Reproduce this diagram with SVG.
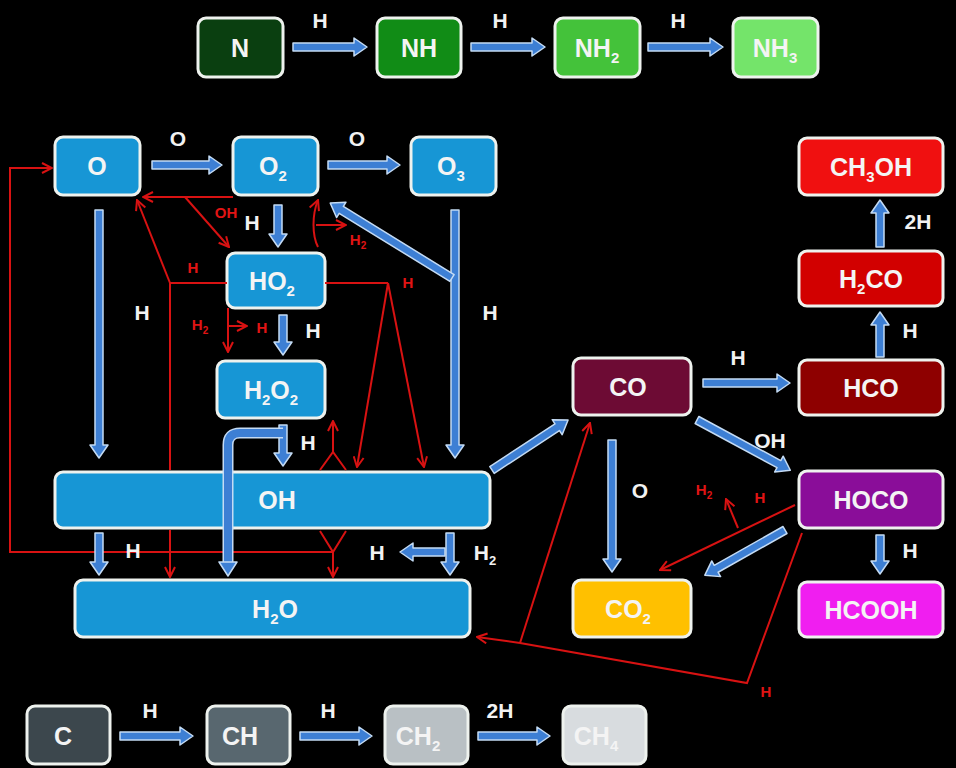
<svg xmlns="http://www.w3.org/2000/svg" width="956" height="768" viewBox="0 0 956 768">
  <defs>
    <style>
      .box { stroke: #eef2ee; stroke-width: 3; }
      .lbl { font-family: "Liberation Sans", Arial, sans-serif; font-weight: bold; font-size: 25px; text-anchor: middle; fill: #f4f4f4; }
      .sub { font-size: 15px; }
      .wt { font-family: "Liberation Sans", Arial, sans-serif; font-weight: bold; font-size: 21px; text-anchor: middle; fill: #f2f2f2; }
      .rt { font-family: "Liberation Sans", Arial, sans-serif; font-weight: bold; font-size: 15px; text-anchor: middle; fill: #e01414; }
      .blk { fill: #3d7fd4; stroke: #c4dbf4; stroke-width: 1.5; stroke-linejoin: round; }
      .red { fill: none; stroke: #d81212; stroke-width: 2; }
      .ra { fill: none; stroke: #d81212; stroke-width: 2; marker-end: url(#vhead); }
    </style>
    <marker id="vhead" viewBox="0 0 12 12" refX="11" refY="6" markerWidth="12" markerHeight="12" markerUnits="userSpaceOnUse" orient="auto">
      <path d="M1,1 L11,6 L1,11" fill="none" stroke="#d81212" stroke-width="2"/>
    </marker>
  </defs>

  <rect width="956" height="768" fill="#000"/>

  <!-- nitrogen chain -->
  <g id="n-N"><rect class="box" x="198" y="18" width="85" height="59" rx="8" fill="#0a3f10"/><text class="lbl" x="240" y="57">N</text></g>
  <g id="n-NH"><rect class="box" x="377" y="18" width="84" height="59" rx="8" fill="#118c16"/><text class="lbl" x="419" y="57">NH</text></g>
  <g id="n-NH2"><rect class="box" x="555" y="18" width="85" height="59" rx="8" fill="#44c23a"/><text class="lbl" x="597" y="57">NH<tspan class="sub" dy="6">2</tspan></text></g>
  <g id="n-NH3"><rect class="box" x="733" y="18" width="85" height="59" rx="8" fill="#74e46a"/><text class="lbl" x="775" y="57" fill="#e4fbe0">NH<tspan class="sub" dy="6">3</tspan></text></g>

  <!-- oxygen / water network -->
  <g id="n-O"><rect class="box" x="55" y="137" width="85" height="58" rx="8" fill="#1796d5"/><text class="lbl" x="97" y="175">O</text></g>
  <g id="n-O2"><rect class="box" x="233" y="137" width="85" height="58" rx="8" fill="#1796d5"/><text class="lbl" x="273" y="175">O<tspan class="sub" dy="6">2</tspan></text></g>
  <g id="n-O3"><rect class="box" x="411" y="137" width="85" height="58" rx="8" fill="#1796d5"/><text class="lbl" x="451" y="175">O<tspan class="sub" dy="6">3</tspan></text></g>
  <g id="n-HO2"><rect class="box" x="227" y="253" width="98" height="55" rx="8" fill="#1796d5"/><text class="lbl" x="272" y="290">HO<tspan class="sub" dy="6">2</tspan></text></g>
  <g id="n-H2O2"><rect class="box" x="217" y="361" width="108" height="57" rx="8" fill="#1796d5"/><text class="lbl" x="271" y="399">H<tspan class="sub" dy="6">2</tspan><tspan dy="-6">O</tspan><tspan class="sub" dy="6">2</tspan></text></g>
  <g id="n-OH"><rect class="box" x="55" y="472" width="435" height="56" rx="8" fill="#1796d5"/><text class="lbl" x="277" y="509">OH</text></g>
  <g id="n-H2O"><rect class="box" x="75" y="580" width="395" height="57" rx="8" fill="#1796d5"/><text class="lbl" x="275" y="618">H<tspan class="sub" dy="6">2</tspan><tspan dy="-6">O</tspan></text></g>

  <!-- carbon oxide network -->
  <g id="n-CO"><rect class="box" x="573" y="358" width="118" height="57" rx="8" fill="#6d0b34"/><text class="lbl" x="628" y="396">CO</text></g>
  <g id="n-CO2"><rect class="box" x="573" y="580" width="118" height="57" rx="8" fill="#ffc000"/><text class="lbl" x="628" y="618" fill="#fff3c8">CO<tspan class="sub" dy="6">2</tspan></text></g>
  <g id="n-HCO"><rect class="box" x="799" y="360" width="144" height="55" rx="8" fill="#8e0000"/><text class="lbl" x="871" y="397">HCO</text></g>
  <g id="n-H2CO"><rect class="box" x="799" y="251" width="144" height="55" rx="8" fill="#d20000"/><text class="lbl" x="871" y="288">H<tspan class="sub" dy="6">2</tspan><tspan dy="-6">CO</tspan></text></g>
  <g id="n-CH3OH"><rect class="box" x="799" y="138" width="144" height="57" rx="8" fill="#f01010"/><text class="lbl" x="871" y="176">CH<tspan class="sub" dy="6">3</tspan><tspan dy="-6">OH</tspan></text></g>
  <g id="n-HOCO"><rect class="box" x="799" y="471" width="144" height="57" rx="8" fill="#8a0d99"/><text class="lbl" x="871" y="509">HOCO</text></g>
  <g id="n-HCOOH"><rect class="box" x="799" y="582" width="144" height="55" rx="8" fill="#f01ef0"/><text class="lbl" x="871" y="619">HCOOH</text></g>

  <!-- hydrocarbon chain -->
  <g id="n-C"><rect class="box" x="27" y="706" width="83" height="58" rx="8" fill="#3c474d"/><text class="lbl" x="63" y="745">C</text></g>
  <g id="n-CH"><rect class="box" x="207" y="706" width="83" height="58" rx="8" fill="#58676f"/><text class="lbl" x="240" y="745">CH</text></g>
  <g id="n-CH2"><rect class="box" x="385" y="706" width="83" height="58" rx="8" fill="#b9c0c4"/><text class="lbl" x="418" y="745" fill="#eef0f2">CH<tspan class="sub" dy="6">2</tspan></text></g>
  <g id="n-CH4"><rect class="box" x="563" y="706" width="83" height="58" rx="8" fill="#d8dcdf"/><text class="lbl" x="596" y="745" fill="#f4f6f7">CH<tspan class="sub" dy="6">4</tspan></text></g>

  <g id="connectors">
    <!-- red reaction lines -->
    <g id="red-lines">
      <polyline class="ra" points="333,552 10,552 10,168 52,168"/>
      <path class="red" d="M320,531 L333,552 L346,531"/>
      <line class="ra" x1="333" y1="552" x2="333" y2="577"/>
      <line class="red" x1="170" y1="283" x2="170" y2="470"/>
      <line class="ra" x1="170" y1="530" x2="170" y2="577"/>
      <line class="red" x1="227" y1="283" x2="170" y2="283"/>
      <line class="ra" x1="170" y1="283" x2="137" y2="200"/>
      <line class="ra" x1="233" y1="197" x2="143" y2="197"/>
      <line class="ra" x1="185" y1="197" x2="229" y2="247"/>
      <line class="ra" x1="228" y1="308" x2="228" y2="352"/>
      <line class="ra" x1="228" y1="326" x2="247" y2="326"/>
      <path class="ra" d="M318,247 C312,235 312,215 318,200"/>
      <line class="ra" x1="316" y1="225" x2="346" y2="225"/>
      <line class="red" x1="325" y1="283" x2="388" y2="283"/>
      <line class="ra" x1="388" y1="283" x2="357" y2="467"/>
      <line class="ra" x1="388" y1="283" x2="424" y2="467"/>
      <path class="red" d="M320,470 L333,452 L346,470"/>
      <line class="ra" x1="333" y1="452" x2="333" y2="421"/>
      <polyline class="red" points="802,533 747,683 520,643"/>
      <line class="ra" x1="520" y1="643" x2="477" y2="637"/>
      <line class="ra" x1="520" y1="643" x2="590" y2="423"/>
      <line class="ra" x1="795" y1="505" x2="660" y2="570"/>
      <line class="ra" x1="738" y1="528" x2="726" y2="499"/>
    </g>

    <!-- blue block arrows: drawn along +x, then placed -->
    <g id="blue-arrows">
      <polygon class="blk" transform="translate(293,47)" points="0,-4 61,-4 61,-9 74,0 61,9 61,4 0,4"/>
      <polygon class="blk" transform="translate(471,47)" points="0,-4 61,-4 61,-9 74,0 61,9 61,4 0,4"/>
      <polygon class="blk" transform="translate(648,47)" points="0,-4 62,-4 62,-9 75,0 62,9 62,4 0,4"/>
      <polygon class="blk" transform="translate(152,165)" points="0,-4 57,-4 57,-9 70,0 57,9 57,4 0,4"/>
      <polygon class="blk" transform="translate(328,165)" points="0,-4 59,-4 59,-9 72,0 59,9 59,4 0,4"/>
      <polygon class="blk" transform="translate(278,205) rotate(90)" points="0,-4 29,-4 29,-9 42,0 29,9 29,4 0,4"/>
      <polygon class="blk" transform="translate(283,315) rotate(90)" points="0,-4 27,-4 27,-9 40,0 27,9 27,4 0,4"/>
      <polygon class="blk" transform="translate(283,425) rotate(90)" points="0,-4 28,-4 28,-9 41,0 28,9 28,4 0,4"/>
      <polygon class="blk" transform="translate(99,210) rotate(90)" points="0,-4 235,-4 235,-9 248,0 235,9 235,4 0,4"/>
      <polygon class="blk" transform="translate(455,210) rotate(90)" points="0,-4 235,-4 235,-9 248,0 235,9 235,4 0,4"/>
      <polygon class="blk" transform="translate(452,278) rotate(211.6)" points="0,-4 130,-4 130,-9 143,0 130,9 130,4 0,4"/>
      <polygon class="blk" transform="translate(99,533) rotate(90)" points="0,-4 29,-4 29,-9 42,0 29,9 29,4 0,4"/>
      <polygon class="blk" transform="translate(450,533) rotate(90)" points="0,-4 29,-4 29,-9 42,0 29,9 29,4 0,4"/>
      <polygon class="blk" transform="translate(445,552) rotate(180)" points="0,-4 32,-4 32,-9 45,0 32,9 32,4 0,4"/>
      <polygon class="blk" transform="translate(492,470) rotate(-33.3)" points="0,-4 78,-4 78,-9 91,0 78,9 78,4 0,4"/>
      <polygon class="blk" transform="translate(703,383)" points="0,-4 74,-4 74,-9 87,0 74,9 74,4 0,4"/>
      <polygon class="blk" transform="translate(697,420) rotate(28.3)" points="0,-4 93,-4 93,-9 106,0 93,9 93,4 0,4"/>
      <polygon class="blk" transform="translate(612,440) rotate(90)" points="0,-4 119,-4 119,-9 132,0 119,9 119,4 0,4"/>
      <polygon class="blk" transform="translate(785,530) rotate(150.6)" points="0,-4 79,-4 79,-9 92,0 79,9 79,4 0,4"/>
      <polygon class="blk" transform="translate(880,535) rotate(90)" points="0,-4 26,-4 26,-9 39,0 26,9 26,4 0,4"/>
      <polygon class="blk" transform="translate(880,357) rotate(-90)" points="0,-4 32,-4 32,-9 45,0 32,9 32,4 0,4"/>
      <polygon class="blk" transform="translate(880,247) rotate(-90)" points="0,-4 34,-4 34,-9 47,0 34,9 34,4 0,4"/>
      <polygon class="blk" transform="translate(120,736)" points="0,-4 60,-4 60,-9 73,0 60,9 60,4 0,4"/>
      <polygon class="blk" transform="translate(300,736)" points="0,-4 59,-4 59,-9 72,0 59,9 59,4 0,4"/>
      <polygon class="blk" transform="translate(478,736)" points="0,-4 59,-4 59,-9 72,0 59,9 59,4 0,4"/>
      <!-- hooked arrow from H2O2 down into H2O -->
      <path d="M283,433 L240,433 Q228,433 228,445 L228,563" fill="none" stroke="#c4dbf4" stroke-width="11"/>
      <path d="M283,433 L240,433 Q228,433 228,445 L228,563" fill="none" stroke="#3d7fd4" stroke-width="8"/>
      <polygon class="blk" points="219,562 237,562 228,576"/>
    </g>

    <!-- reaction labels -->
    <g id="labels">
      <text class="wt" x="320" y="28">H</text>
      <text class="wt" x="500" y="28">H</text>
      <text class="wt" x="678" y="28">H</text>
      <text class="wt" x="178" y="146">O</text>
      <text class="wt" x="357" y="146">O</text>
      <text class="wt" x="252" y="230">H</text>
      <text class="wt" x="142" y="320">H</text>
      <text class="wt" x="490" y="320">H</text>
      <text class="wt" x="313" y="338">H</text>
      <text class="wt" x="308" y="450">H</text>
      <text class="wt" x="133" y="558">H</text>
      <text class="wt" x="377" y="560">H</text>
      <text class="wt" x="485" y="560">H<tspan font-size="13" dy="5">2</tspan></text>
      <text class="wt" x="738" y="365">H</text>
      <text class="wt" x="770" y="448">OH</text>
      <text class="wt" x="640" y="498">O</text>
      <text class="wt" x="910" y="558">H</text>
      <text class="wt" x="910" y="338">H</text>
      <text class="wt" x="918" y="229">2H</text>
      <text class="wt" x="150" y="718">H</text>
      <text class="wt" x="328" y="718">H</text>
      <text class="wt" x="500" y="718">2H</text>
      <text class="rt" x="193" y="273">H</text>
      <text class="rt" x="226" y="218">OH</text>
      <text class="rt" x="200" y="330">H<tspan font-size="10" dy="4">2</tspan></text>
      <text class="rt" x="262" y="333">H</text>
      <text class="rt" x="358" y="245">H<tspan font-size="10" dy="4">2</tspan></text>
      <text class="rt" x="408" y="288">H</text>
      <text class="rt" x="766" y="697">H</text>
      <text class="rt" x="704" y="495">H<tspan font-size="10" dy="4">2</tspan></text>
      <text class="rt" x="760" y="503">H</text>
    </g>
  </g>
</svg>
